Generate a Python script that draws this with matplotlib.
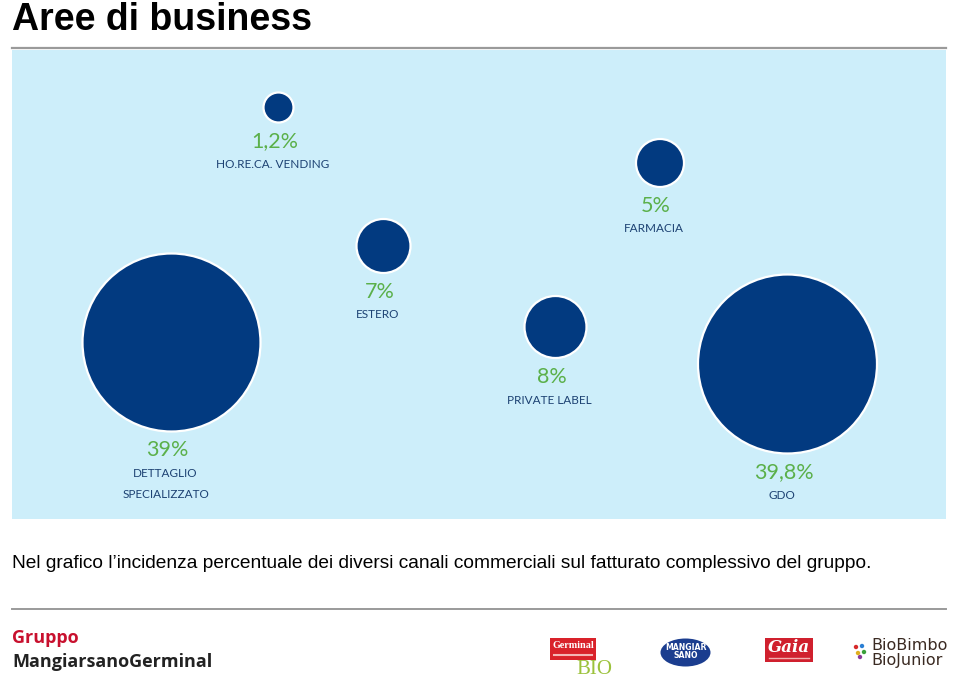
import matplotlib.pyplot as plt
from matplotlib.patches import Circle, Rectangle, Ellipse

# --- DATA ---
channels = ['HO.RE.CA. VENDING', 'FARMACIA', 'ESTERO', 'PRIVATE LABEL',
            'DETTAGLIO\nSPECIALIZZATO', 'GDO']
share_labels = ['1,2%', '5%', '7%', '8%', '39%', '39,8%']
share_values = [1.2, 5.0, 7.0, 8.0, 39.0, 39.8]
bubble_x = [278.5, 660, 383.5, 555.5, 171.5, 787.5]
bubble_y = [107.5, 163, 246, 327, 342.5, 364]
bubble_r = [15, 24, 27, 31, 89, 89.5]

title = 'Aree di business'
caption = ('Nel grafico l\u2019incidenza percentuale dei diversi canali '
           'commerciali sul fatturato complessivo del gruppo.')

# --- COLOURS ---
panel_color = '#cdeefa'
bubble_color = '#023a80'
green = '#5bb04a'
navy = '#1d4273'
rule_gray = '#9a9a9a'

W, H = 960, 688
fig = plt.figure(figsize=(W / 100, H / 100), dpi=100)

# overlay axes in pixel coordinates (y pointing down)
ov = fig.add_axes([0, 0, 1, 1])
ov.set_xlim(0, W)
ov.set_ylim(H, 0)
ov.axis('off')

# panel axes holding the bubbles, also in pixel units of the figure
px0, px1, py0, py1 = 12, 946, 50, 519
ax = fig.add_axes([px0 / W, 1 - py1 / H, (px1 - px0) / W, (py1 - py0) / H])
ax.set_xlim(px0, px1)
ax.set_ylim(py1, py0)
ax.set_facecolor(panel_color)
ax.set_xticks([])
ax.set_yticks([])
for s in ax.spines.values():
    s.set_visible(False)

for x, y, r, pct, name in zip(bubble_x, bubble_y, bubble_r, share_labels, channels):
    ax.add_patch(Circle((x, y), r, facecolor=bubble_color, edgecolor='white',
                        linewidth=1.6, zorder=3))
    ty = y + r + 19
    ax.text(x - 4, ty, pct, color=green, fontsize=15.5, family='Lato',
            ha='center', va='center')
    for i, line in enumerate(name.split('\n')):
        ax.text(x - 6, ty + 23 + 21 * i, line, color=navy, fontsize=8.5,
                family='Lato', ha='center', va='center')

# --- TITLE, RULES, CAPTION ---
ov.text(12, 30, title, fontsize=27, fontweight='bold', family='Liberation Sans',
        ha='left', va='baseline', color='black')
ov.plot([12, 946], [47.5, 47.5], color=rule_gray, lw=1.6)
ov.plot([12, 946], [609, 609], color=rule_gray, lw=1.4)
ov.text(12, 563, caption, fontsize=13.8, family='Liberation Sans',
        ha='left', va='center', color='black')

# --- FOOTER ---
ov.text(12, 638, 'Gruppo', fontsize=13, fontweight='bold', family='Open Sans',
        color='#c8102e', ha='left', va='center')
ov.text(12, 662, 'MangiarsanoGerminal', fontsize=13, fontweight='bold',
        family='Open Sans', color='#222222', ha='left', va='center')

# Germinal BIO
ov.add_patch(Rectangle((550, 638), 46, 22, facecolor='#d9222a', edgecolor='none'))
ov.text(573, 646, 'Germinal', fontsize=7.3, fontweight='bold', family='Liberation Serif',
        color='white', ha='center', va='center')
ov.plot([554, 592], [654.5, 654.5], color='#f4b5b5', lw=1.5)
ov.text(594, 669, 'BIO', fontsize=15, family='Liberation Serif',
        color='#9cc23c', ha='center', va='center')

# Mangiar Sano
ov.add_patch(Ellipse((685.5, 652.5), 50, 28, facecolor='#1b3d8f', edgecolor='none'))
ov.text(686, 647, 'MANGIAR', fontsize=5.6, fontweight='bold', family='DejaVu Sans',
        color='white', ha='center', va='center')
ov.text(686, 656, 'SANO', fontsize=5.6, fontweight='bold', family='DejaVu Sans',
        color='white', ha='center', va='center')

# Gaia
ov.add_patch(Rectangle((765, 638), 48, 24, facecolor='#d0202e', edgecolor='none'))
ov.text(789, 648, 'Gaia', fontsize=12, fontweight='bold', style='italic',
        family='DejaVu Serif', color='white', ha='center', va='center')
ov.plot([769, 809], [658, 658], color='#f2b0b0', lw=1.0)

# BioBimbo BioJunior
for dx, dy, c in [(856, 647, '#d62a2a'), (862, 646, '#2a7fd4'), (858, 653, '#e0b020'),
                  (864, 652, '#3aa03a'), (860, 657, '#8a3a9a')]:
    ov.add_patch(Circle((dx, dy), 2.2, facecolor=c, edgecolor='none'))
ov.text(871, 645, 'BioBimbo', fontsize=11.5, family='DejaVu Sans',
        color='#3a2a22', ha='left', va='center')
ov.text(871, 661, 'BioJunior', fontsize=11.5, family='DejaVu Sans',
        color='#3a2a22', ha='left', va='center')

fig.savefig('out.png', dpi=100)
